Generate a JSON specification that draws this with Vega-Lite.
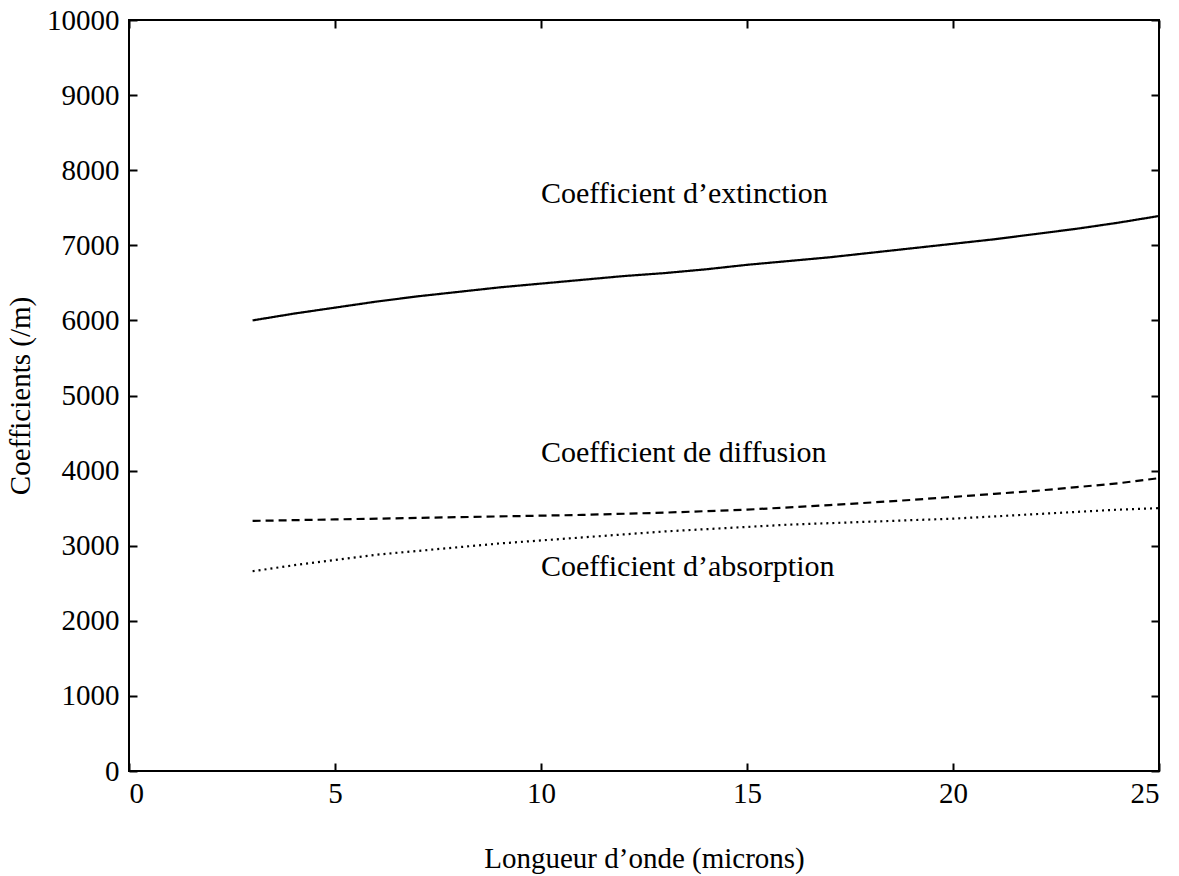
{
  "$schema": "https://vega.github.io/schema/vega-lite/v6.json",
  "width": 1030,
  "height": 751,
  "autosize": {"type": "none"},
  "padding": {"left": 129, "top": 20, "right": 20, "bottom": 105},
  "background": "white",
  "config": {
    "view": {"stroke": "black", "strokeWidth": 2},
    "font": "Liberation Serif",
    "axis": {
      "grid": false,
      "domain": false,
      "ticks": true,
      "tickSize": -8,
      "tickColor": "black",
      "tickWidth": 2,
      "labelFont": "Liberation Serif",
      "labelFontSize": 29,
      "labelColor": "black",
      "titleFont": "Liberation Serif",
      "titleFontSize": 29,
      "titleFontWeight": "normal",
      "titleColor": "black"
    }
  },
  "datasets": {
    "curves": [
      {"lambda": 3, "coef": 6000, "serie": "extinction"},
      {"lambda": 4, "coef": 6090, "serie": "extinction"},
      {"lambda": 5, "coef": 6170, "serie": "extinction"},
      {"lambda": 6, "coef": 6250, "serie": "extinction"},
      {"lambda": 7, "coef": 6320, "serie": "extinction"},
      {"lambda": 8, "coef": 6380, "serie": "extinction"},
      {"lambda": 9, "coef": 6440, "serie": "extinction"},
      {"lambda": 10, "coef": 6490, "serie": "extinction"},
      {"lambda": 11, "coef": 6540, "serie": "extinction"},
      {"lambda": 12, "coef": 6590, "serie": "extinction"},
      {"lambda": 13, "coef": 6630, "serie": "extinction"},
      {"lambda": 14, "coef": 6680, "serie": "extinction"},
      {"lambda": 15, "coef": 6740, "serie": "extinction"},
      {"lambda": 16, "coef": 6790, "serie": "extinction"},
      {"lambda": 17, "coef": 6840, "serie": "extinction"},
      {"lambda": 18, "coef": 6900, "serie": "extinction"},
      {"lambda": 19, "coef": 6960, "serie": "extinction"},
      {"lambda": 20, "coef": 7020, "serie": "extinction"},
      {"lambda": 21, "coef": 7080, "serie": "extinction"},
      {"lambda": 22, "coef": 7150, "serie": "extinction"},
      {"lambda": 23, "coef": 7220, "serie": "extinction"},
      {"lambda": 24, "coef": 7300, "serie": "extinction"},
      {"lambda": 25, "coef": 7390, "serie": "extinction"},
      {"lambda": 3, "coef": 3330, "serie": "diffusion"},
      {"lambda": 5, "coef": 3350, "serie": "diffusion"},
      {"lambda": 7, "coef": 3370, "serie": "diffusion"},
      {"lambda": 9, "coef": 3390, "serie": "diffusion"},
      {"lambda": 11, "coef": 3410, "serie": "diffusion"},
      {"lambda": 13, "coef": 3440, "serie": "diffusion"},
      {"lambda": 15, "coef": 3480, "serie": "diffusion"},
      {"lambda": 17, "coef": 3540, "serie": "diffusion"},
      {"lambda": 19, "coef": 3610, "serie": "diffusion"},
      {"lambda": 20, "coef": 3650, "serie": "diffusion"},
      {"lambda": 21, "coef": 3690, "serie": "diffusion"},
      {"lambda": 22, "coef": 3730, "serie": "diffusion"},
      {"lambda": 23, "coef": 3780, "serie": "diffusion"},
      {"lambda": 24, "coef": 3830, "serie": "diffusion"},
      {"lambda": 25, "coef": 3900, "serie": "diffusion"},
      {"lambda": 3, "coef": 2660, "serie": "absorption"},
      {"lambda": 4, "coef": 2740, "serie": "absorption"},
      {"lambda": 5, "coef": 2810, "serie": "absorption"},
      {"lambda": 6, "coef": 2880, "serie": "absorption"},
      {"lambda": 7, "coef": 2930, "serie": "absorption"},
      {"lambda": 8, "coef": 2980, "serie": "absorption"},
      {"lambda": 9, "coef": 3030, "serie": "absorption"},
      {"lambda": 10, "coef": 3070, "serie": "absorption"},
      {"lambda": 11, "coef": 3110, "serie": "absorption"},
      {"lambda": 12, "coef": 3150, "serie": "absorption"},
      {"lambda": 13, "coef": 3190, "serie": "absorption"},
      {"lambda": 14, "coef": 3220, "serie": "absorption"},
      {"lambda": 15, "coef": 3250, "serie": "absorption"},
      {"lambda": 16, "coef": 3280, "serie": "absorption"},
      {"lambda": 17, "coef": 3300, "serie": "absorption"},
      {"lambda": 18, "coef": 3320, "serie": "absorption"},
      {"lambda": 19, "coef": 3340, "serie": "absorption"},
      {"lambda": 20, "coef": 3360, "serie": "absorption"},
      {"lambda": 21, "coef": 3390, "serie": "absorption"},
      {"lambda": 22, "coef": 3420, "serie": "absorption"},
      {"lambda": 23, "coef": 3450, "serie": "absorption"},
      {"lambda": 24, "coef": 3480, "serie": "absorption"},
      {"lambda": 25, "coef": 3500, "serie": "absorption"}
    ],
    "labels": [
      {"lambda": 10, "coef": 7680, "texte": "Coefficient d’extinction"},
      {"lambda": 10, "coef": 4230, "texte": "Coefficient de diffusion"},
      {"lambda": 10, "coef": 2720, "texte": "Coefficient d’absorption"}
    ]
  },
  "resolve": {"axis": {"x": "independent", "y": "independent"}},
  "layer": [
    {
      "data": {"name": "curves"},
      "mark": {"type": "line", "strokeWidth": 2.2, "color": "black"},
      "encoding": {
        "x": {
          "field": "lambda", "type": "quantitative",
          "scale": {"domain": [0, 25], "nice": false, "zero": false},
          "axis": {"values": [0, 5, 10, 15, 20, 25], "format": "d", "title": "Longueur d’onde (microns)", "labelPadding": 16, "titlePadding": 36, "orient": "bottom"}
        },
        "y": {
          "field": "coef", "type": "quantitative",
          "scale": {"domain": [0, 10000], "nice": false, "zero": false},
          "axis": {"values": [0, 1000, 2000, 3000, 4000, 5000, 6000, 7000, 8000, 9000, 10000], "format": "d", "title": "Coefficients (/m)", "labelPadding": 18, "titlePadding": 11, "orient": "left"}
        },
        "detail": {"field": "serie"},
        "strokeDash": {
          "field": "serie", "type": "nominal",
          "scale": {"domain": ["extinction", "diffusion", "absorption"], "range": [[1, 0], [8, 5], [2, 4]]},
          "legend": null
        }
      }
    },
    {
      "data": {"name": "labels"},
      "mark": {"type": "text", "align": "left", "baseline": "middle", "font": "Liberation Serif", "fontSize": 30, "color": "black"},
      "encoding": {
        "x": {
          "field": "lambda", "type": "quantitative",
          "axis": {"values": [0, 5, 10, 15, 20, 25], "orient": "top", "labels": false, "title": null}
        },
        "y": {
          "field": "coef", "type": "quantitative",
          "axis": {"values": [0, 1000, 2000, 3000, 4000, 5000, 6000, 7000, 8000, 9000, 10000], "orient": "right", "labels": false, "title": null}
        },
        "text": {"field": "texte"}
      }
    }
  ]
}
